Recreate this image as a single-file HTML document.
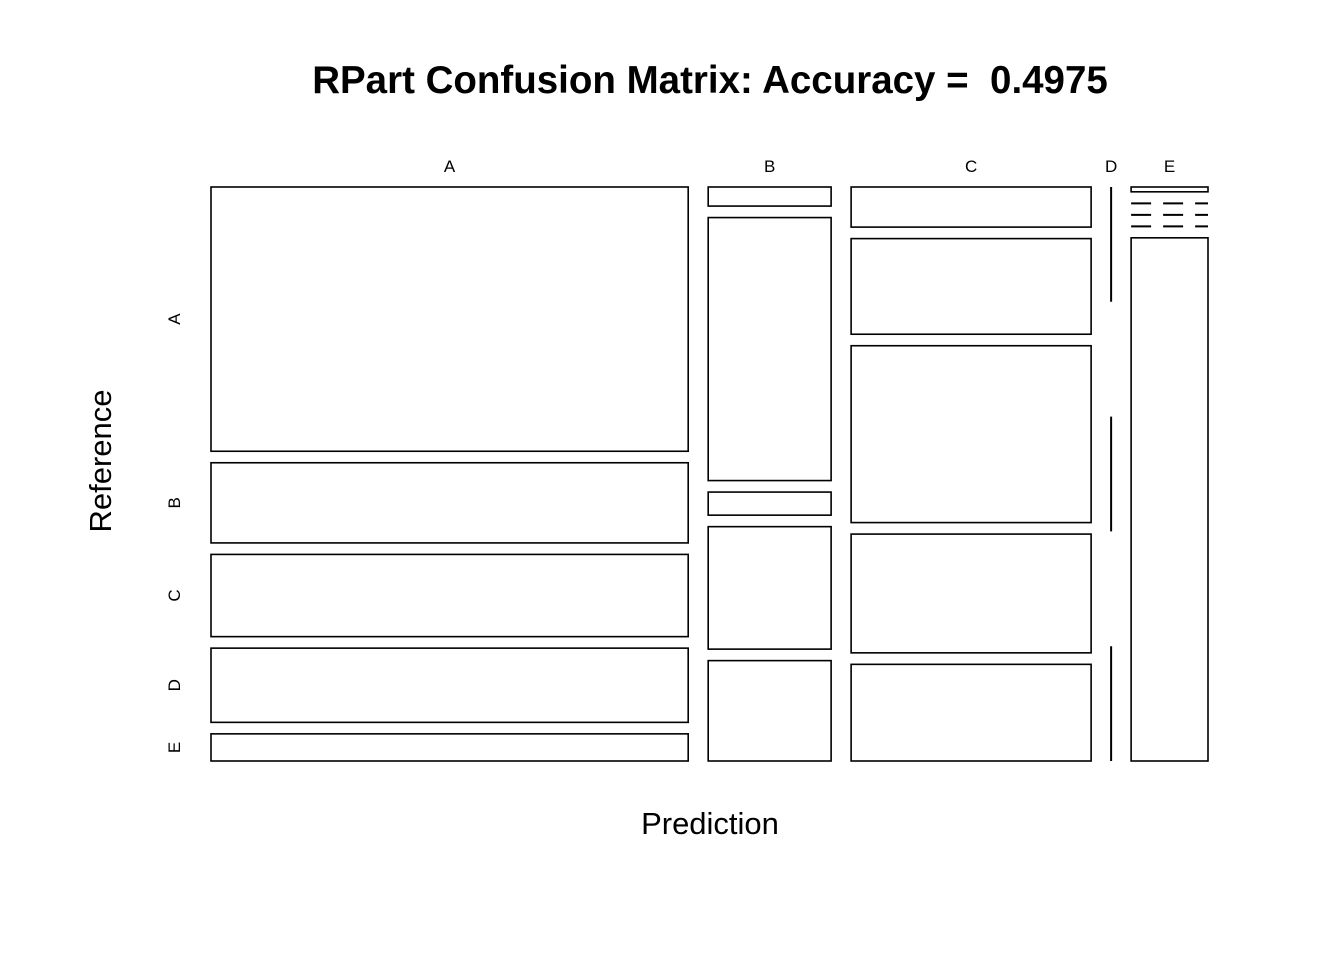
<!DOCTYPE html>
<html><head><meta charset="utf-8"><style>
html,body{margin:0;padding:0;background:#fff;}
svg{display:block;font-family:"Liberation Sans",Arial,sans-serif;}
</style></head><body>
<svg id="chart" width="1344" height="960" viewBox="0 0 1344 960">
<text x="710" y="93" text-anchor="middle" font-size="38.5" font-weight="bold" style="white-space:pre">RPart Confusion Matrix: Accuracy =  0.4975</text>
<text x="710" y="834" text-anchor="middle" font-size="31">Prediction</text>
<text transform="translate(111,461) rotate(-90)" text-anchor="middle" font-size="31">Reference</text>
<g id="marks"></g>
</svg>
<script>
const predCats = ["A","B","C","D","E"];
const refCats = ["A","B","C","D","E"];
// counts[prediction][reference]
const colA = [1022,310,318,287,105];
const colB = [19,262,23,122,100];
const colC = [78,186,344,231,188];
const colD = [0,0,0,0,0];
const colE = [3,0,0,0,326];
const counts = [colA,colB,colC,colD,colE];

const NS="http://www.w3.org/2000/svg";
const g=document.getElementById('marks');
const svg=document.getElementById('chart');
const x0=211,x1=1208,y0=187,y1=761,gapX=20,gapY=11.5;
const total=counts.reduce((s,c)=>s+c.reduce((a,b)=>a+b,0),0);
const usableW=(x1-x0)-gapX*(predCats.length-1);
function mk(tag,attrs){const e=document.createElementNS(NS,tag);for(const k in attrs)e.setAttribute(k,attrs[k]);return e;}
let cx=x0;
counts.forEach((col,i)=>{
  const colTot=col.reduce((a,b)=>a+b,0);
  const w=colTot/total*usableW;
  const lab=mk('text',{x:cx+w/2,y:172,'text-anchor':'middle','font-size':'17'});
  lab.textContent=predCats[i];
  
  
  svg.appendChild(lab);
  if(colTot===0){
    const h=(y1-y0)/refCats.length;
    refCats.forEach((r,j)=>{
      if(j%2===0){
        const l=mk('line',{x1:cx,x2:cx,y1:y0+j*h,y2:y0+(j+1)*h,stroke:'#000','stroke-width':'2'});
        
        
        g.appendChild(l);
      }
    });
  } else {
    const usableH=(y1-y0)-gapY*(refCats.length-1);
    let cy=y0;
    col.forEach((v,j)=>{
      const h=v/colTot*usableH;
      let el;
      if(v===0){
        el=mk('line',{x1:cx,x2:cx+w,y1:cy,y2:cy,stroke:'#000','stroke-width':'2','stroke-dasharray':'20,12'});
      } else {
        el=mk('rect',{x:cx,y:cy,width:w,height:h,fill:'#fff',stroke:'#000','stroke-width':'1.6'});
      }
      
      
      g.appendChild(el);
      if(i===0){
        const t=mk('text',{transform:'translate(180,'+(cy+h/2)+') rotate(-90)','text-anchor':'middle','font-size':'17'});
        t.textContent=refCats[j];
        
        
        svg.appendChild(t);
      }
      cy+=h+gapY;
    });
  }
  cx+=w+gapX;
});
</script>
</body></html>
